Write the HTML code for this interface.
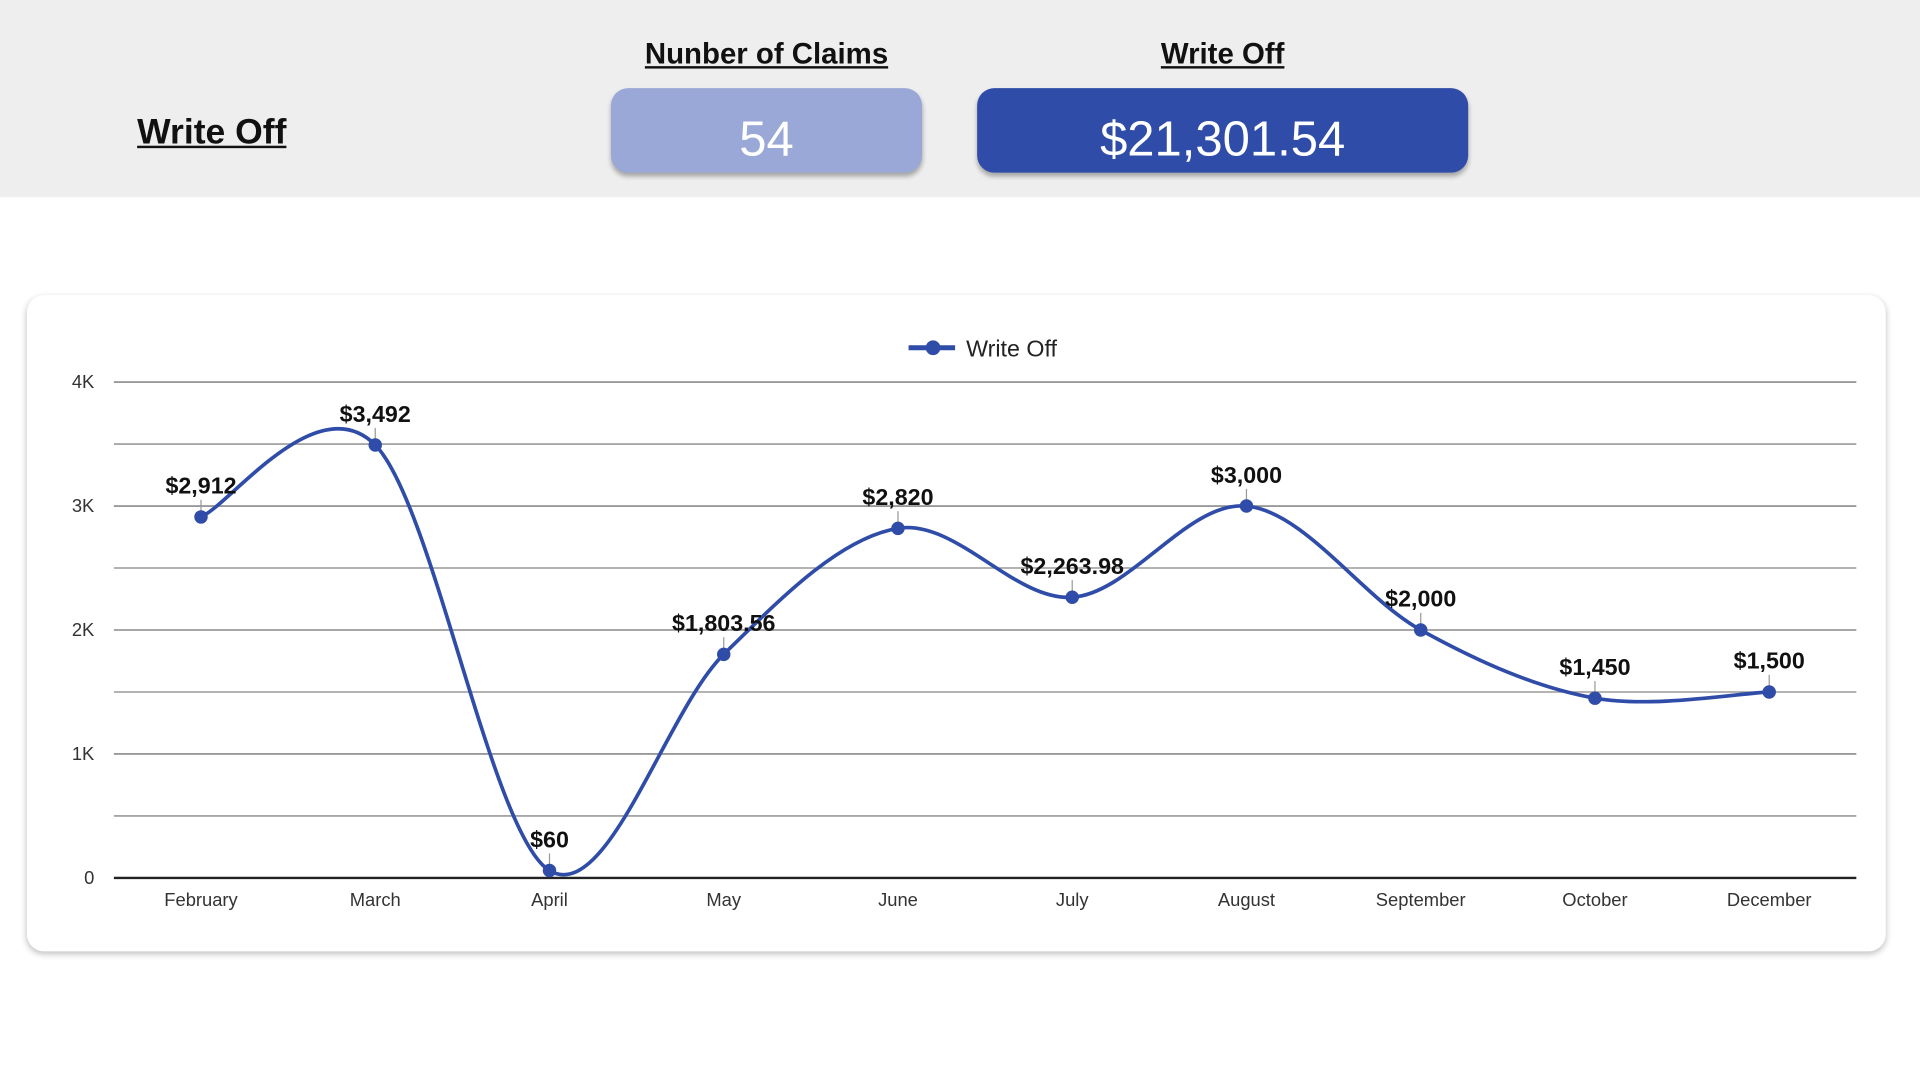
<!DOCTYPE html>
<html><head><meta charset="utf-8"><style>
html,body{margin:0;padding:0;width:1920px;height:1080px;overflow:hidden;background:#fff;font-family:"Liberation Sans",Arial,sans-serif}
#wrap{position:absolute;left:0;top:0;width:1568px;height:882px;transform:scale(1.22449);transform-origin:0 0}
#header{position:absolute;left:0;top:0;width:1568px;height:161px;background:#eeeeee}
.h{position:absolute;font-weight:bold;text-decoration:underline;color:#111;text-align:center;white-space:nowrap}
.box{position:absolute;top:72px;height:69px;border-radius:14px;color:#fff;font-size:40px;text-align:center;line-height:84px;box-shadow:0 3px 4px rgba(0,0,0,0.3)}
#card{position:absolute;left:22px;top:241px;width:1518px;height:536px;border-radius:14px;background:#fff;box-shadow:0 2px 5px rgba(0,0,0,0.25)}
svg{position:absolute;left:0;top:0}
</style></head><body>
<div id="wrap">
<div id="header">
<div class="h" style="left:112px;top:92px;font-size:29px">Write Off</div>
<div class="h" style="left:499px;width:254px;top:31px;font-size:24px">Nunber of Claims</div>
<div class="h" style="left:798px;width:401px;top:31px;font-size:24px">Write Off</div>
<div class="box" style="left:499px;width:254px;background:#9aa8d8">54</div>
<div class="box" style="left:798px;width:401px;background:#2f4ca8">$21,301.54</div>
</div>
<div id="card"></div>
<svg id="chart" width="1568" height="882"></svg>
</div>
<script>
const categories=["February","March","April","May","June","July","August","September","October","December"];
const values=[2912,3492,60,1803.56,2820,2263.98,3000,2000,1450,1500];
const valueLabels=["$2,912","$3,492","$60","$1,803.56","$2,820","$2,263.98","$3,000","$2,000","$1,450","$1,500"];
const yTicks=[0,1000,2000,3000,4000];
const yTickLabels=["0","1K","2K","3K","4K"];
const minorTicks=[500,1500,2500,3500];

const NS="http://www.w3.org/2000/svg";
const svg=document.getElementById('chart');
const X0=93,X1=1516,Y0=717,Y1=312,YMAX=4000;
const step=(X1-X0)/categories.length;
const xs=i=>X0+step/2+step*i;
const ys=v=>Y0-(v/YMAX)*(Y0-Y1);
function mk(t,a,p){const e=document.createElementNS(NS,t);for(const k in a)e.setAttribute(k,a[k]);(p||svg).appendChild(e);return e;}

minorTicks.forEach(v=>{
const l=mk('line',{x1:X0,x2:X1,y1:ys(v),y2:ys(v),stroke:'#9a9a9a','stroke-width':1.3});


});
yTicks.forEach((v,i)=>{
const l=mk('line',{x1:X0,x2:X1,y1:ys(v),y2:ys(v),stroke:v===0?'#222':'#8a8a8a','stroke-width':v===0?2:1.3});


const t=mk('text',{x:77,y:ys(v)+5,'text-anchor':'end','font-size':15,fill:'#333'});
t.textContent=yTickLabels[i];


});
categories.forEach((c,i)=>{
const t=mk('text',{x:xs(i),y:740,'text-anchor':'middle','font-size':15,fill:'#333'});
t.textContent=c;


});
const pts=values.map((v,i)=>[xs(i),ys(v)]);
let d='M'+pts[0][0]+','+pts[0][1];
for(let i=0;i<pts.length-1;i++){
const p0=pts[Math.max(i-1,0)],p1=pts[i],p2=pts[i+1],p3=pts[Math.min(i+2,pts.length-1)];
const c1=[p1[0]+(p2[0]-p0[0])/6,p1[1]+(p2[1]-p0[1])/6];
const c2=[p2[0]-(p3[0]-p1[0])/6,p2[1]-(p3[1]-p1[1])/6];
d+=' C'+c1+' '+c2+' '+p2;
}
const path=mk('path',{d:d,fill:'none',stroke:'#2f4ca8','stroke-width':3});


pts.forEach((p,i)=>{
const tk=mk('line',{x1:p[0],x2:p[0],y1:p[1]-4,y2:p[1]-14,stroke:'#999','stroke-width':1});


const c=mk('circle',{cx:p[0],cy:p[1],r:5.5,fill:'#2f4ca8'});


const t=mk('text',{x:p[0],y:p[1]-19,'text-anchor':'middle','font-size':19,'font-weight':'bold',fill:'#111'});
t.textContent=valueLabels[i];


});
const g=mk('g',{});


mk('line',{x1:742,x2:780,y1:284,y2:284,stroke:'#2f4ca8','stroke-width':4},g);
mk('circle',{cx:762,cy:284,r:6,fill:'#2f4ca8'},g);
const lt=mk('text',{x:789,y:291,'font-size':19,fill:'#222'},g);
lt.textContent='Write Off';
</script>
</body></html>
